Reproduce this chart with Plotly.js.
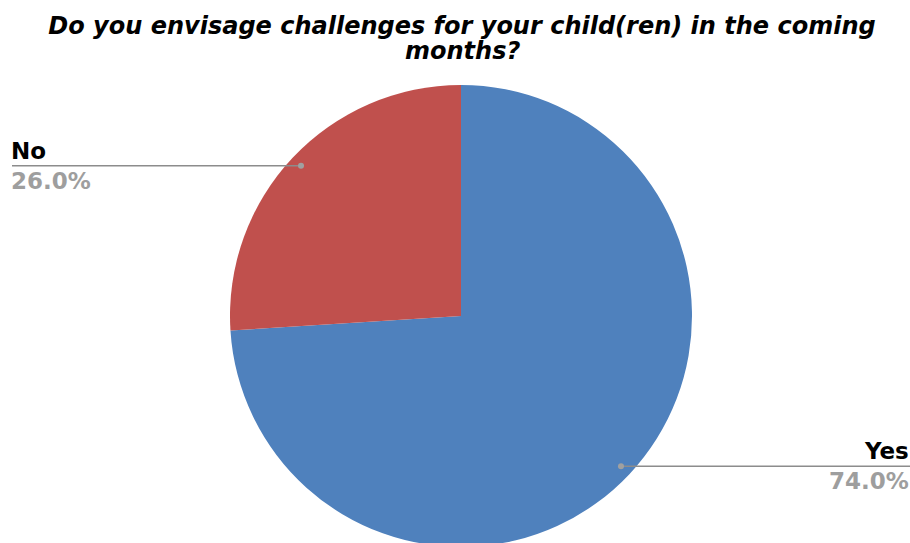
<!DOCTYPE html>
<html>
<head>
<meta charset="utf-8">
<script src="https://cdn.plot.ly/plotly-3.0.1.min.js"></script>
<style>
  html, body { margin: 0; padding: 0; overflow: hidden; background: #fff; }
  #chart { width: 910px; height: 560px; }
</style>
</head>
<body>
<div id="chart"></div>
<script>
const titleLine1 = "Do you envisage challenges for your child(ren) in the coming";
const titleLine2 = "months?";
const categories = ["Yes", "No"];
const values = [74, 26];
const colors = ["#4f81bd", "#c0504d"];

const W = 910, H = 560;
const domX = [230 / W, 692 / W];
const domY = [(H - 547) / H, (H - 85) / H];

const total = values.reduce((a, b) => a + b, 0);
const cx = (domX[0] + domX[1]) / 2 * W;
const cyTop = H - (domY[0] + domY[1]) / 2 * H;
const R = Math.min((domX[1] - domX[0]) * W, (domY[1] - domY[0]) * H) / 2;

const titleFont = {family: "DejaVu Sans", size: 24, color: "#000000", weight: "bold", style: "italic"};

const shapes = [];
const annotations = [];
let cum = 0;
values.forEach((v, i) => {
  const mid = (cum + v / 2) / total;
  cum += v;
  const ang = mid * 2 * Math.PI;
  const dx = cx + 0.95 * R * Math.sin(ang);
  const dy = cyTop - 0.95 * R * Math.cos(ang);
  const left = Math.sin(ang) < 0;
  const endX = left ? 12 : 908;
  const px = dx / W, py = (H - dy) / H;
  shapes.push({type: "line", xref: "paper", yref: "paper", x0: px, y0: py, x1: (left ? 12 : 910) / W, y1: py,
    line: {color: "#8c8c8c", width: 1.5}});
  shapes.push({type: "circle", xref: "paper", yref: "paper", xsizemode: "pixel", ysizemode: "pixel",
    xanchor: px, yanchor: py, x0: -3, x1: 3, y0: -3, y1: 3,
    fillcolor: "#a0a0a0", line: {width: 0}});
  const pct = (v / total * 100).toFixed(1) + "%";
  annotations.push({
    xref: "paper", yref: "paper", x: endX / W, y: py,
    xanchor: left ? "left" : "right", yanchor: "middle", align: left ? "left" : "right",
    xshift: left ? -3 : 3,
    showarrow: false,
    text: "<b>" + categories[i] + "</b><br><span style='color:#9e9e9e'><b>" + pct + "</b></span>",
    font: {family: "DejaVu Sans", size: 23, color: "#000000"}
  });
});

annotations.push({
  xref: "paper", yref: "paper", x: 462 / W, y: 1 - 35 / H,
  xanchor: "center", yanchor: "top", showarrow: false,
  text: titleLine2, font: titleFont
});

const data = [{
  type: "pie",
  labels: categories,
  values: values,
  sort: false,
  direction: "clockwise",
  rotation: 0,
  marker: {colors: colors, line: {width: 0}},
  textinfo: "none",
  hoverinfo: "label+percent",
  domain: {x: domX, y: domY},
  showlegend: false
}];

const layout = {
  width: W, height: H,
  margin: {l: 0, r: 0, t: 0, b: 0},
  paper_bgcolor: "#ffffff",
  title: {
    text: titleLine1,
    x: 462 / W, xanchor: "center",
    y: 1 - 17 / H, yanchor: "top",
    font: titleFont
  },
  shapes: shapes,
  annotations: annotations,
  showlegend: false
};

Plotly.newPlot("chart", data, layout, {displayModeBar: false, staticPlot: true});
</script>
</body>
</html>
